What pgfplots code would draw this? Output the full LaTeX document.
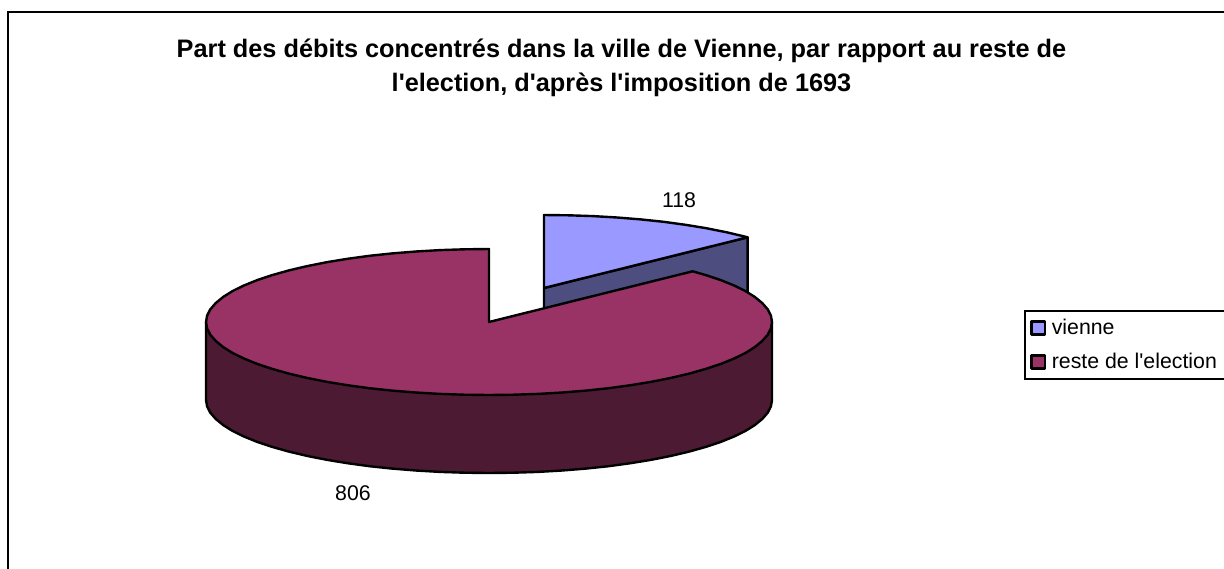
\documentclass[border=0pt]{standalone}
\usepackage{fontspec}
\setmainfont{Liberation Sans}[Ligatures=TeXOff]
\usepackage{pgfplots}
\pgfplotsset{compat=1.18}
\definecolor{blueTop}{HTML}{9999FF}
\definecolor{blueSide}{HTML}{4D4D80}
\definecolor{redTop}{HTML}{993366}
\definecolor{redSide}{HTML}{4D1A33}
\begin{document}
\begin{tikzpicture}
\useasboundingbox (0,0) rectangle (612pt,284pt);
\begin{axis}[
  at={(0,0)}, anchor=south west,
  scale only axis, width=612pt, height=284pt,
  xmin=0, xmax=1224, ymin=0, ymax=568, y dir=reverse,
  hide axis, clip=true,
  legend cell align=left,
  legend image code/.code={\path[draw=none,fill=none] (0pt,-8.5pt) rectangle (11.4pt,8.5pt);\draw[#1,line width=1.2pt] (3.3pt,-3.3pt) rectangle (9.9pt,3.3pt);},
  legend style={
    at={(axis cs:1025,311)}, anchor=north west,
    draw=black, line width=0.6pt, font=\fontsize{10.65pt}{12pt}\selectfont,
    inner sep=0pt, outer sep=0pt,
    row sep=0pt,
    legend columns=1,
    nodes={inner xsep=2pt, inner ysep=0pt},
    cells={anchor=west},
  },
]
% frame
\addplot[forget plot, black, line width=1pt] coordinates {(8,600) (8,12) (1240,12)};
% blue slice side
\addplot[forget plot, fill=blueSide, draw=black, line width=1.2pt, line join=round] coordinates {
(544,288) (747.6,237.3) (747.6,315.3) (544,366)} -- cycle;
% blue slice top
\addplot[fill=blueTop, draw=black, line width=1.2pt, line join=round] coordinates {
(544,288) (544,215) (568.7,215.3) (593.1,216.1) (617.2,217.5) (640.8,219.4) (663.6,221.8)
(685.5,224.8) (706.3,228.2) (725.9,232.1) (744.1,236.4) (747.6,237.3)} -- cycle;
\addlegendentry{vienne}
% red wall
\addplot[forget plot, fill=redSide, draw=black, line width=1.2pt, line join=round] coordinates {
(206,322) (206,400) (207.1,406.4) (210.3,412.7) (215.7,418.9) (223.1,425) (232.5,430.9)
(243.9,436.5) (257.2,441.9) (272.2,446.9) (288.9,451.6) (307.1,455.9) (326.7,459.8)
(347.5,463.2) (369.4,466.2) (392.2,468.6) (415.8,470.5) (439.9,471.9) (464.3,472.7) (489,473)
(513.7,472.7) (538.1,471.9) (562.2,470.5) (585.8,468.6) (608.6,466.2) (630.5,463.2)
(651.3,459.8) (670.9,455.9) (689.1,451.6) (705.8,446.9) (720.8,441.9) (734.1,436.5)
(745.5,430.9) (754.9,425) (762.3,418.9) (767.7,412.7) (770.9,406.4) (772,400) (772,322)} -- cycle;
% red top
\addplot[fill=redTop, draw=black, line width=1.2pt, line join=round] coordinates {
(489,322) (489,249) (464.3,249.3) (439.9,250.1) (415.8,251.5) (392.2,253.4) (369.4,255.8)
(347.5,258.8) (326.7,262.2) (307.1,266.1) (288.9,270.4) (272.2,275.1) (257.2,280.1)
(243.9,285.5) (232.5,291.1) (223.1,297.0) (215.7,303.1) (210.3,309.3) (207.1,315.6) (206,322)
(207.1,328.4) (210.3,334.7) (215.7,340.9) (223.1,347) (232.5,352.9) (243.9,358.5)
(257.2,363.9) (272.2,368.9) (288.9,373.6) (307.1,377.9) (326.7,381.8) (347.5,385.2)
(369.4,388.2) (392.2,390.6) (415.8,392.5) (439.9,393.9) (464.3,394.7) (489,395)
(513.7,394.7) (538.1,393.9) (562.2,392.5) (585.8,390.6) (608.6,388.2) (630.5,385.2)
(651.3,381.8) (670.9,377.9) (689.1,373.6) (705.8,368.9) (720.8,363.9) (734.1,358.5)
(745.5,352.9) (754.9,347) (762.3,340.9) (767.7,334.7) (770.9,328.4) (772,322)
(770.9,315.6) (767.7,309.3) (762.3,303.1) (754.9,297) (745.5,291.1) (734.1,285.5)
(720.8,280.1) (705.8,275.1) (692.6,271.3)} -- cycle;
\addlegendentry{reste de l'election\hspace*{5pt}}
\node[font=\fontsize{10.65pt}{12pt}\selectfont] at (axis cs:679,200) {118};
\node[font=\fontsize{10.65pt}{12pt}\selectfont] at (axis cs:353,493) {806};
\node[font=\bfseries\fontsize{12.65pt}{17pt}\selectfont, align=center] at (axis cs:621.5,68)
 {Part des débits concentrés dans la ville de Vienne, par rapport au reste de\\l'election, d'après l'imposition de 1693};
\end{axis}
\end{tikzpicture}
\end{document}
